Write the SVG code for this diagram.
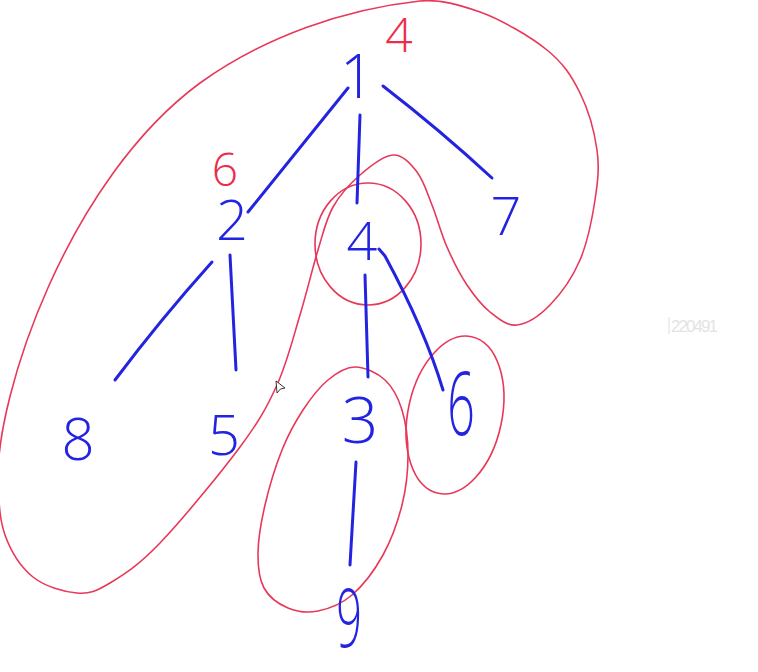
<svg xmlns="http://www.w3.org/2000/svg" width="758" height="672" viewBox="0 0 758 672">
<style>
.loop{fill:none;stroke:#e8385a;stroke-width:1.6;stroke-linejoin:round}
.edge{fill:none;stroke:#2323e0;stroke-width:3;stroke-linecap:round;stroke-linejoin:round}
.b{fill:#2323e0;font-family:"Open Sans","Liberation Sans",sans-serif;font-weight:300;text-anchor:middle}
.r{fill:#ec2c4a;font-family:"Open Sans","Liberation Sans",sans-serif;font-weight:300;text-anchor:middle}
</style>
<rect width="758" height="672" fill="#ffffff"/>
<g id="loops">
<path id="loop-big" class="loop" d="M420,1 C440,-1 460,5 480,12 S530.3,36.5 547,50 S571.7,76.3 580,93 S594.5,132.2 597,150 S597.8,181.7 595,200 S587.5,242.5 580,260 S560.5,294.2 550,305 S527,323.8 517,325 S498.3,318.7 490,312 S474.2,295.8 467,285 S452.8,260.3 447,247 S437,217.5 432,205 S423.5,180.3 417,172 S402.5,154.5 393,155 S370,166.3 360,175 S340,194.5 333,207 S323.5,232 318,250 S306.8,292.5 300,315 S287,363 277,385 S259.5,420.7 240,447 S181.7,520.3 160,543 S123.8,574.7 110,583 S89.8,594 77,593 S45,586.7 33,577 S10.8,551.2 5,535 S-1.2,499.7 -2,480 C-4,395 68,180 200,83 C265,36.4 345,9 420,1 Z"/>
<ellipse id="loop-4" class="loop" cx="368" cy="244" rx="53" ry="61"/>
<path id="loop-3-9" class="loop" d="M355,367 C364.5,367 377.2,372.8 385,380 S398.2,397.5 402,410 S408,439.2 408,455 S406.2,488.3 402,505 S391.3,540 383,555 S362.8,585.7 352,595 S328.7,608.8 318,611 S297,611.8 288,608 S269,597.2 264,588 S257.8,566.8 258,553 S261,522.2 265,505 S275.7,465.8 282,450 S295.3,421.7 303,410 S319.3,387.2 328,380 S345.5,367 355,367 Z"/>
<ellipse id="loop-6" class="loop" cx="455" cy="415" rx="47" ry="80" transform="rotate(12 455 415)"/>
</g>
<g id="connectors">
<path class="edge" d="M348,88 L248,212"/>
<path class="edge" d="M360,115 L357,203"/>
<path class="edge" d="M383,86 Q440,130 492,178"/>
<path class="edge" d="M212,262 Q160,320 115,380"/>
<path class="edge" d="M230,255 L236,370"/>
<path class="edge" d="M365,275 L368,377"/>
<path class="edge" d="M379,249 L385,256 Q425,330 443,390"/>
<path class="edge" d="M356,462 L350,565"/>
</g>
<g id="node-1"><text class="b" x="357" y="98" font-size="60">1</text></g>
<g id="node-2"><text class="b" x="232" y="240" font-size="56">2</text></g>
<g id="node-7"><text class="b" x="506" y="235" font-size="54">7</text></g>
<g id="node-4"><text class="b" x="362" y="260" font-size="54">4</text></g>
<g id="node-8"><text class="b" x="78" y="460" font-size="58">8</text></g>
<g id="node-5"><text class="b" x="224" y="455" font-size="56">5</text></g>
<g id="node-3"><text class="b" x="360" y="443" font-size="64">3</text></g>
<g id="node-6"><text class="b" font-size="88" transform="translate(461 435) scale(0.55 1)">6</text></g>
<g id="node-9"><text class="b" font-size="82" transform="translate(349 647) scale(0.55 1)">9</text></g>
<g id="label-red-4"><text class="r" x="399" y="52" font-size="48">4</text></g>
<g id="label-red-6"><text class="r" x="225" y="186" font-size="46">6</text></g>
<g id="watermark">
<line x1="669" y1="317" x2="669" y2="334" stroke="#dedede" stroke-width="1"/>
<text x="671" y="332" font-size="17" textLength="47" fill="#e4e4e4" font-family="'Liberation Sans',sans-serif">220491</text>
</g>
<g id="cursor"><path d="M276,381 L285,388 L280.5,389 L277,393 Z" fill="#ffffff" stroke="#222222" stroke-width="0.9" stroke-linejoin="round"/></g>
</svg>
